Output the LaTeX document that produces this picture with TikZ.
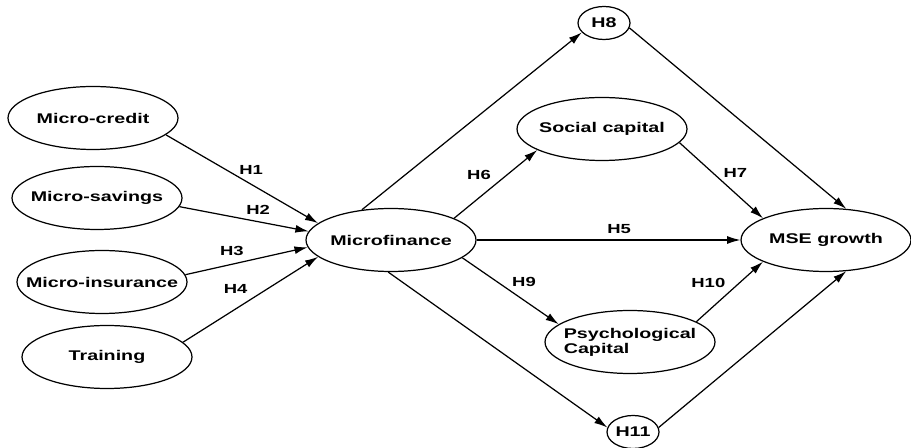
\documentclass[tikz,border=0pt]{standalone}
\usepackage{fontspec}
\newfontfamily\diagfont[FakeStretch=1.4]{Liberation Sans}
\usetikzlibrary{shapes.geometric, arrows.meta}

\tikzset{
    construct/.style={draw, ellipse, line width=0.7pt, minimum width=3.4cm, minimum height=1.26cm, inner xsep=-10pt, inner ysep=0pt, font=\diagfont\bfseries\fontsize{8}{8.5}\selectfont},
    hyp/.style={draw, ellipse, line width=0.7pt, minimum width=1.04cm, minimum height=0.66cm, inner sep=0pt, font=\diagfont\bfseries\fontsize{8}{8}\selectfont},
    link/.style={line width=0.7pt, -{Latex[length=7.5pt, width=4.5pt]}},
    hlab/.style={font=\diagfont\bfseries\fontsize{7.5}{8}\selectfont, inner sep=1pt},
}

\begin{document}
\begin{tikzpicture}[x=0.02cm, y=-0.02cm]
            \useasboundingbox (0,0) rectangle (911,448);

            % Dimensões da microfinança
            \node[construct] (credit) at (93,118) {Micro-credit};
            \node[construct] (savings) at (97,198) {Micro-savings};
            \node[construct] (insurance) at (102,282) {Micro-insurance};
            \node[construct] (training) at (107,357) {Training};

            % Construto central
            \node[construct] (mf) at (391,240) {Microfinance};

            % Mediadores
            \node[hyp] (h8) at (604,23) {H8};
            \node[construct] (social) at (602,129) {Social capital};
            \node[construct, align=left] (psycap) at (630,342) {Psychological\\Capital};
            \node[hyp] (h11) at (633,432) {H11};

            % Resultado
            \node[construct] (mse) at (826,240) {MSE growth};

            % H1 - H4
            \draw[link] (credit.-13) -- node[hlab, pos=0.56, above=4pt] {H1} (mf.167);
            \draw[link] (savings.-6) -- node[hlab, pos=0.61, above=3pt] {H2} (mf.174);
            \draw[link] (insurance.5) -- node[hlab, pos=0.38, above=3.5pt] {H3} (mf.185);
            \draw[link] (training.11) -- node[hlab, pos=0.39, above=7.5pt] {H4} (mf.193);

            % Efeitos diretos e indiretos
            \draw[link] (mf.east) -- node[hlab, pos=0.54, above=2pt] {H5} (mse.west);
            \draw[link] (mf.19) -- node[hlab, pos=0.3, above=9pt] {H6} (social.198);
            \draw[link] (social.-10) -- node[hlab, pos=0.67, above=7.5pt] {H7} (mse.161);
            \draw[link] (mf.-14) -- node[hlab, pos=0.64, above=6.5pt] {H9} (psycap.166);
            \draw[link] (psycap.17) -- node[hlab, pos=0.18, above=12pt] {H10} (mse.199);

            % Caminhos por H8 e H11
            \draw[link] (mf.134) -- (h8.203);
            \draw[link] (h8.-11) -- (mse.57);
            \draw[link] (mf.-95) -- (h11.170);
            \draw[link] (h11.10) -- (mse.-57);
\end{tikzpicture}
\end{document}
